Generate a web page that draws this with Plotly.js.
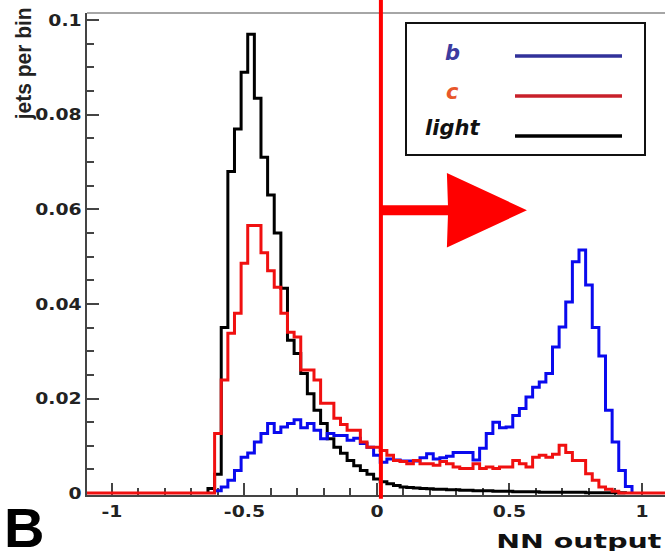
<!DOCTYPE html>
<html>
<head>
<meta charset="utf-8">
<script src="https://cdn.plot.ly/plotly-3.0.1.min.js"></script>
<style>
  html, body { margin: 0; padding: 0; background: #ffffff; overflow: hidden; }
  #chart { width: 665px; height: 551px; }
</style>
</head>
<body>
<div id="chart"></div>
<script>
// ---------------- data ----------------
const binLow = -0.6375;      // lower edge of first listed bin
const binWidth = 0.025;      // bin width
const seriesNames = ["b", "c", "light"];

const lightValues = [
  0.001, 0.004, 0.035, 0.068, 0.077, 0.089, 0.097, 0.0835, 0.071, 0.063,
  0.055, 0.0433, 0.0323, 0.0295, 0.0253, 0.021, 0.0175, 0.0147, 0.0115, 0.0097,
  0.0084, 0.0069, 0.0058, 0.0048, 0.004, 0.003, 0.0024, 0.002, 0.0016, 0.0013,
  0.0012, 0.0011, 0.001, 0.0009, 0.0008, 0.0008, 0.0007, 0.0007, 0.0006, 0.0006,
  0.0005, 0.0005, 0.0005, 0.0004, 0.0004, 0.0004, 0.0003, 0.0003, 0.0003, 0.0003,
  0.0002, 0.0002, 0.0002, 0.0002, 0.0002, 0.0002, 0.0002, 0.0001, 0.0001, 0.0001,
  0.0001, 0.0001, 0.0001, 0, 0
];

const cValues = [
  0, 0.0126, 0.0239, 0.0338, 0.038, 0.0486, 0.0566, 0.0566, 0.0508, 0.047,
  0.0435, 0.038, 0.034, 0.033, 0.026, 0.026, 0.0239, 0.019, 0.019, 0.0158,
  0.0145, 0.0133, 0.0133, 0.0108, 0.0097, 0.0097, 0.009, 0.008, 0.0069, 0.0067,
  0.0062, 0.0069, 0.0062, 0.0062, 0.0059, 0.0067, 0.0062, 0.0055, 0.0052, 0.0052,
  0.0062, 0.0052, 0.0055, 0.0052, 0.0055, 0.0055, 0.0069, 0.0062, 0.0055, 0.0076,
  0.008, 0.0076, 0.0082, 0.0101, 0.0086, 0.0069, 0.0069, 0.0041, 0.0027, 0.0013,
  0.0008, 0.0004, 0, 0, 0
];

const bValues = [
  0, 0.0005, 0.0013, 0.0027, 0.0048, 0.0076, 0.0085, 0.0108, 0.0126, 0.0147,
  0.0128, 0.014, 0.0147, 0.0155, 0.0138, 0.0147, 0.0133, 0.0115, 0.0126, 0.0122,
  0.0122, 0.0112, 0.0116, 0.0105, 0.0097, 0.008, 0.0065, 0.0072, 0.007, 0.0068,
  0.0068, 0.0068, 0.0075, 0.0083, 0.0072, 0.0075, 0.0078, 0.0086, 0.0086, 0.0086,
  0.007, 0.0095, 0.0126, 0.015, 0.0138, 0.014, 0.0164, 0.0179, 0.0203, 0.0224,
  0.0235, 0.0253, 0.0309, 0.0351, 0.0404, 0.0489, 0.0514, 0.044, 0.035, 0.029,
  0.0175, 0.0108, 0.0048, 0.0014, 0
];

const xTickVals = [-1, -0.5, 0, 0.5, 1];
const xTickText = ["-1", "-0.5", "0", "0.5", "1"];
const yTickVals = [0, 0.02, 0.04, 0.06, 0.08, 0.1];
const yTickText = ["0", "0.02", "0.04", "0.06", "0.08", "0.1"];

const cutValue = 0.015;          // NN output cut (vertical line)
const arrowY = 0.0598;           // arrow height in jets per bin
const arrowTip = 0.566;          // arrow tip position in NN output

// ---------------- layout constants ----------------
const W = 665, H = 551;
const M = { l: 87, r: 0, t: 13, b: 56 };
const xRange = [-1.094, 1.087];
const yRange = [-0.0004, 0.1015];
const plotW = W - M.l - M.r, plotH = H - M.t - M.b;
const px2paperX = px => (px - M.l) / plotW;
const py2paperY = py => (H - M.b - py) / plotH;
const x2paper = v => (v - xRange[0]) / (xRange[1] - xRange[0]);

function stepTrace(values, color, name, fullRange) {
  const xs = [], ys = [];
  const edge = i => binLow + i * binWidth;
  if (fullRange) {
    xs.push(-1.2); ys.push(0);
    values.forEach((v, i) => { xs.push(edge(i)); ys.push(v); });
    xs.push(edge(values.length)); ys.push(0);
    xs.push(1.2); ys.push(0);
  } else {
    let first = values.findIndex(v => v > 0);
    let last = values.length - 1;
    while (last > 0 && values[last] <= 0) last--;
    xs.push(edge(first)); ys.push(0);
    for (let i = first; i <= last; i++) { xs.push(edge(i)); ys.push(values[i]); }
    xs.push(edge(last + 1)); ys.push(0);
  }
  return {
    type: "scatter", mode: "lines", name: name, x: xs, y: ys,
    line: { shape: "hv", color: color, width: 3 },
    hoverinfo: "skip", showlegend: false
  };
}

const histColors = { b: "#0a0aee", c: "#f01010", light: "#000000" };
const legendLineColors = { b: "#31319a", c: "#c8202a", light: "#000000" };
const legendTextColors = { b: "#3c3ca0", c: "#e8572a", light: "#111111" };

const traces = [
  stepTrace(lightValues, histColors.light, "light", false),
  stepTrace(bValues, histColors.b, "b", false),
  stepTrace(cValues, histColors.c, "c", true)
];
// keep blue above red where both are non-zero
traces.push(Object.assign({}, stepTrace(bValues, histColors.b, "b2", false)));

const tickFont = { family: "DejaVu Sans", size: 16.5, color: "#222222", weight: 700 };

const shapes = [];
// light top frame line
shapes.push({
  type: "line", xref: "paper", yref: "paper", x0: 0, x1: 1, y0: 1, y1: 1,
  line: { color: "#888888", width: 1.5 }, layer: "below"
});
// cut line
shapes.push({
  type: "line", xref: "paper", yref: "paper",
  x0: x2paper(cutValue), x1: x2paper(cutValue), y0: -0.008, y1: 1.03,
  line: { color: "#ff0000", width: 4 }, layer: "above"
});
// arrow (data coords)
const shaftHalf = 0.00105, headBase = 0.264, headHalf = 0.0079;
shapes.push({
  type: "path", xref: "x", yref: "y", layer: "above",
  path: `M ${cutValue},${arrowY - shaftHalf} L ${headBase + 0.004},${arrowY - shaftHalf} ` +
        `L ${headBase},${arrowY - headHalf} L ${arrowTip},${arrowY} ` +
        `L ${headBase},${arrowY + headHalf} L ${headBase + 0.004},${arrowY + shaftHalf} ` +
        `L ${cutValue},${arrowY + shaftHalf} Z`,
  fillcolor: "#ff0000", line: { width: 0 }
});
// legend box
shapes.push({
  type: "rect", xref: "paper", yref: "paper",
  x0: px2paperX(406), x1: px2paperX(645), y0: py2paperY(155), y1: py2paperY(23),
  fillcolor: "#ffffff", line: { color: "#111111", width: 2 }, layer: "above"
});
const legendRowsY = [56, 96, 136];
seriesNames.forEach((n, i) => {
  shapes.push({
    type: "line", xref: "paper", yref: "paper",
    x0: px2paperX(515), x1: px2paperX(622),
    y0: py2paperY(legendRowsY[i]), y1: py2paperY(legendRowsY[i]),
    line: { color: legendLineColors[n], width: 3.5 }, layer: "above"
  });
});

const annotations = [];
const legendTextY = [53, 92, 128];
seriesNames.forEach((n, i) => {
  annotations.push({
    text: n, xref: "paper", yref: "paper",
    x: px2paperX(452), y: py2paperY(legendTextY[i]),
    xanchor: "center", yanchor: "middle", showarrow: false,
    font: { family: "DejaVu Sans", size: 21, color: legendTextColors[n], weight: 700, style: "italic" }
  });
});
annotations.push({
  text: "jets per bin", xref: "paper", yref: "paper",
  x: px2paperX(24), y: py2paperY(64), textangle: -90,
  xanchor: "center", yanchor: "middle", showarrow: false,
  font: { family: "Liberation Sans", size: 22, color: "#222222", weight: 700 }
});
annotations.push({
  text: "NN output", xref: "paper", yref: "paper",
  x: px2paperX(663), y: py2paperY(541),
  xanchor: "right", yanchor: "middle", showarrow: false,
  font: { family: "DejaVu Sans", size: 19, color: "#111111", weight: 700 }
});
annotations.push({
  text: "B", xref: "paper", yref: "paper",
  x: px2paperX(24), y: py2paperY(527),
  xanchor: "center", yanchor: "middle", showarrow: false,
  font: { family: "Liberation Sans", size: 56, color: "#000000", weight: 700 }
});

const axisCommon = {
  showgrid: false, zeroline: false, showline: true,
  linecolor: "#444444", linewidth: 2,
  ticks: "inside", ticklen: 12, tickwidth: 2, tickcolor: "#444444",
  tickfont: tickFont, layer: "below traces", fixedrange: true
};

const layout = {
  width: W, height: H,
  margin: M,
  paper_bgcolor: "#ffffff", plot_bgcolor: "#ffffff",
  showlegend: false,
  xaxis: Object.assign({}, axisCommon, {
    range: xRange, tickmode: "array", tickvals: xTickVals, ticktext: xTickText,
    minor: { dtick: 0.1, tick0: 0, ticks: "inside", ticklen: 7, tickwidth: 2, tickcolor: "#444444" }
  }),
  yaxis: Object.assign({}, axisCommon, {
    range: yRange, tickmode: "array", tickvals: yTickVals, ticktext: yTickText,
    minor: { dtick: 0.005, tick0: 0, ticks: "inside", ticklen: 7, tickwidth: 2, tickcolor: "#444444" }
  }),
  shapes: shapes,
  annotations: annotations
};

// horizontally widen a text element while keeping one side / centre fixed
function stretchText(el, newLen, align) {
  const b0 = el.getBBox();
  el.setAttribute("lengthAdjust", "spacingAndGlyphs");
  el.setAttribute("textLength", newLen.toFixed(2));
  const b1 = el.getBBox();
  let r0, r1;
  if (align === "right") { r0 = b0.x + b0.width; r1 = b1.x + b1.width; }
  else if (align === "left") { r0 = b0.x; r1 = b1.x; }
  else { r0 = b0.x + b0.width / 2; r1 = b1.x + b1.width / 2; }
  const x = parseFloat(el.getAttribute("x") || "0");
  el.setAttribute("x", (x + (r0 - r1)).toFixed(2));
}

Plotly.newPlot("chart", traces.slice(0, 3), layout, { staticPlot: true, displayModeBar: false }).then(() => {
  document.querySelectorAll(".annotation-text").forEach(t => {
    if (t.textContent === "NN output") stretchText(t, 165, "right");
    if (t.textContent === "jets per bin") stretchText(t, 112, "center");
  });
  document.querySelectorAll(".ytick text").forEach(t => {
    stretchText(t, t.getBBox().width * 1.14, "right");
  });
  document.querySelectorAll(".xtick text").forEach(t => {
    stretchText(t, t.getBBox().width * 1.14, "center");
  });
});
</script>
</body>
</html>
